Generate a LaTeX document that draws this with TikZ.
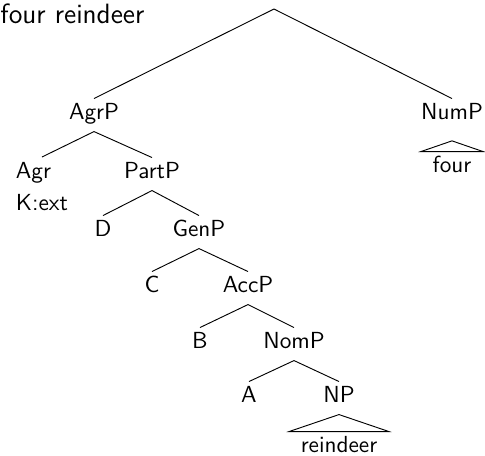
\documentclass[tikz,border=0pt]{standalone}
\usepackage{tikz}
\begin{document}
\begin{tikzpicture}[x=0.43pt, y=-0.43pt, font=\sffamily,
  lbl/.style={anchor=base, inner ysep=2pt, text height=6.6pt, text depth=3.2pt},
  roofleaf/.style={lbl, inner xsep=4.8pt}]
  \useasboundingbox (0,0) rectangle (485,455);

  % Title
  \node[font=\sffamily\large, anchor=base west, inner sep=0pt] (title) at (0,23) {four reindeer};

  % Root and first split
  \coordinate (root) at (274,9);
  \node[lbl] (agrp) at (94,119) {AgrP};
  \node[lbl] (nump) at (452,119) {NumP};
  \draw (root) -- (agrp.north);
  \draw (root) -- (nump.north);

  % NumP roof
  \node[roofleaf] (four) at (452,172) {four};
  \draw ([yshift=-4pt]nump.south) -- (four.north west) -- (four.north east) -- cycle;

  % AgrP
  \node[anchor=north, align=left, inner ysep=2pt] (agr) at (42,157) {Agr\\[2pt]K:ext};
  \node[lbl] (partp) at (152,178) {PartP};
  \draw (agrp.south) -- (agr.north);
  \draw (agrp.south) -- (partp.north);

  % PartP
  \node[lbl] (d) at (103,236) {D};
  \node[lbl] (genp) at (199,236) {GenP};
  \draw (partp.south) -- (d.north);
  \draw (partp.south) -- (genp.north);

  % GenP
  \node[lbl] (c) at (152,292) {C};
  \node[lbl] (accp) at (248,292) {AccP};
  \draw (genp.south) -- (c.north);
  \draw (genp.south) -- (accp.north);

  % AccP
  \node[lbl] (b) at (200,348) {B};
  \node[lbl] (nomp) at (294,348) {NomP};
  \draw (accp.south) -- (b.north);
  \draw (accp.south) -- (nomp.north);

  % NomP
  \node[lbl] (a) at (249,402) {A};
  \node[lbl] (np) at (339,402) {NP};
  \draw (nomp.south) -- (a.north);
  \draw (nomp.south) -- (np.north);

  % NP roof
  \node[roofleaf] (rd) at (339,452) {reindeer};
  \draw (np.south) -- (rd.north west) -- (rd.north east) -- cycle;
\end{tikzpicture}
\end{document}
